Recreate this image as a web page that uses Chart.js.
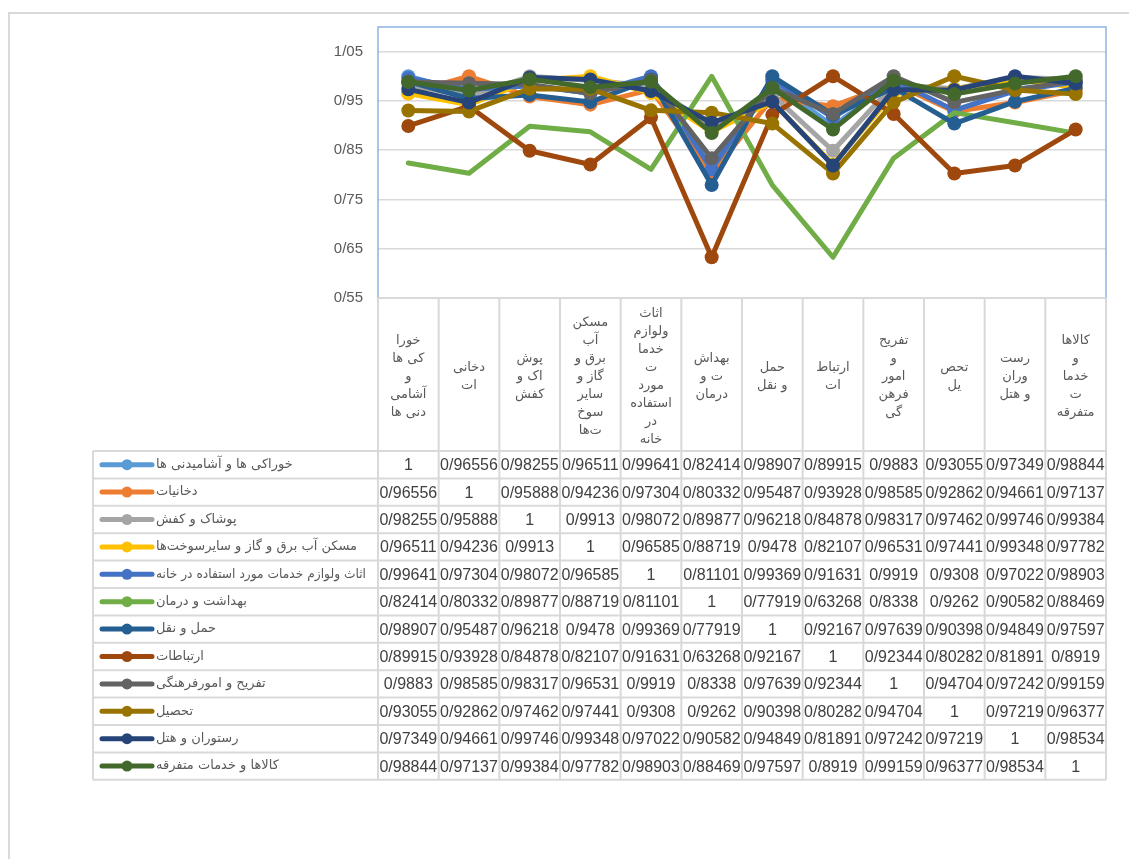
<!DOCTYPE html>
<html>
<head>
<meta charset="utf-8">
<script src="https://cdn.jsdelivr.net/npm/chart.js@4.4.1/dist/chart.umd.min.js"></script>
<style>
    body { margin: 0; background: #fff; }
    canvas { display: block; }
</style>
</head>
<body>
<canvas id="lineChart" width="1129" height="859"></canvas>
<script>
// categories (column headers, wrapped the way the sheet wraps them)
const categories = [
    ['خورا', 'کی ها', 'و', 'آشامی', 'دنی ها'],
    ['دخانی', 'ات'],
    ['پوش', 'اک و', 'کفش'],
    ['مسکن', 'آب', 'برق و', 'گاز و', 'سایر', 'سوخ', 'ت\u200cها'],
    ['اثاث', 'ولوازم', 'خدما', 'ت', 'مورد', 'استفاده', 'در', 'خانه'],
    ['بهداش', 'ت و', 'درمان'],
    ['حمل', 'و نقل'],
    ['ارتباط', 'ات'],
    ['تفریح', 'و', 'امور', 'فرهن', 'گی'],
    ['تحص', 'یل'],
    ['رست', 'وران', 'و هتل'],
    ['کالاها', 'و', 'خدما', 'ت', 'متفرقه']
];

const seriesNames = [
    'خوراکی ها و آشامیدنی ها',
    'دخانیات',
    'پوشاک و کفش',
    'مسکن آب برق و گاز و سایرسوخت\u200cها',
    'اثاث ولوازم خدمات مورد استفاده در خانه',
    'بهداشت و درمان',
    'حمل و نقل',
    'ارتباطات',
    'تفریح و امورفرهنگی',
    'تحصیل',
    'رستوران و هتل',
    'کالاها و خدمات متفرقه'
];

const food = [1, 0.96556, 0.98255, 0.96511, 0.99641, 0.82414, 0.98907, 0.89915, 0.9883, 0.93055, 0.97349, 0.98844];
const tobacco = [0.96556, 1, 0.95888, 0.94236, 0.97304, 0.80332, 0.95487, 0.93928, 0.98585, 0.92862, 0.94661, 0.97137];
const clothing = [0.98255, 0.95888, 1, 0.9913, 0.98072, 0.89877, 0.96218, 0.84878, 0.98317, 0.97462, 0.99746, 0.99384];
const housing = [0.96511, 0.94236, 0.9913, 1, 0.96585, 0.88719, 0.9478, 0.82107, 0.96531, 0.97441, 0.99348, 0.97782];
const furnishing = [0.99641, 0.97304, 0.98072, 0.96585, 1, 0.81101, 0.99369, 0.91631, 0.9919, 0.9308, 0.97022, 0.98903];
const health = [0.82414, 0.80332, 0.89877, 0.88719, 0.81101, 1, 0.77919, 0.63268, 0.8338, 0.9262, 0.90582, 0.88469];
const transport = [0.98907, 0.95487, 0.96218, 0.9478, 0.99369, 0.77919, 1, 0.92167, 0.97639, 0.90398, 0.94849, 0.97597];
const communication = [0.89915, 0.93928, 0.84878, 0.82107, 0.91631, 0.63268, 0.92167, 1, 0.92344, 0.80282, 0.81891, 0.8919];
const recreation = [0.9883, 0.98585, 0.98317, 0.96531, 0.9919, 0.8338, 0.97639, 0.92344, 1, 0.94704, 0.97242, 0.99159];
const education = [0.93055, 0.92862, 0.97462, 0.97441, 0.9308, 0.9262, 0.90398, 0.80282, 0.94704, 1, 0.97219, 0.96377];
const restaurants = [0.97349, 0.94661, 0.99746, 0.99348, 0.97022, 0.90582, 0.94849, 0.81891, 0.97242, 0.97219, 1, 0.98534];
const misc = [0.98844, 0.97137, 0.99384, 0.97782, 0.98903, 0.88469, 0.97597, 0.8919, 0.99159, 0.96377, 0.98534, 1];

const yTicks = [0.55, 0.65, 0.75, 0.85, 0.95, 1.05];

const seriesValues = [food, tobacco, clothing, housing, furnishing, health,
    transport, communication, recreation, education, restaurants, misc];
const colors = ['#5B9BD5', '#ED7D31', '#A5A5A5', '#FFC000', '#4472C4', '#70AD47',
    '#255E91', '#9E480E', '#636363', '#997300', '#264478', '#43682B'];

const GRID = '#D9D9D9';
const TEXT = '#404040';
const TABLE_LEFT = 93;
const HEADER_BOTTOM = 451;
const ROW_H = 27.4;

/**
 * Format a number the way the sheet does: slash as decimal mark.
 */
function fmt(v) {
    return String(v).replace('.', '/');
}

/**
 * Draw the data table (header, legend keys, values) under the plot,
 * lined up with the category scale.
 */
const dataTable = {
    id: 'dataTable',
    afterDraw(chart) {
        const ctx = chart.ctx;
        const area = chart.chartArea;
        const x = chart.scales.x;
        const colW = (area.right - area.left) / categories.length;
        const bottom = HEADER_BOTTOM + ROW_H * seriesNames.length;
        ctx.save();

        // outer frame
        ctx.strokeStyle = GRID;
        ctx.lineWidth = 2;
        ctx.strokeRect(9, 13, 1140, 870);

        // plot area frame (left, top, right)
        ctx.strokeStyle = '#8DB4E2';
        ctx.lineWidth = 1.5;
        ctx.beginPath();
        ctx.moveTo(area.left, area.bottom);
        ctx.lineTo(area.left, area.top);
        ctx.lineTo(area.right, area.top);
        ctx.lineTo(area.right, area.bottom);
        ctx.stroke();

        // table lines
        ctx.strokeStyle = GRID;
        ctx.lineWidth = 2;
        ctx.beginPath();
        ctx.moveTo(area.left, area.bottom);
        ctx.lineTo(area.right, area.bottom);
        for (let r = 0; r <= seriesNames.length; r++) {
            const y = HEADER_BOTTOM + r * ROW_H;
            ctx.moveTo(TABLE_LEFT, y);
            ctx.lineTo(area.right, y);
        }
        for (let i = 0; i <= categories.length; i++) {
            const cx = area.left + i * colW;
            ctx.moveTo(cx, area.bottom);
            ctx.lineTo(cx, bottom);
        }
        ctx.moveTo(TABLE_LEFT, HEADER_BOTTOM);
        ctx.lineTo(TABLE_LEFT, bottom);
        ctx.stroke();

        // header text
        ctx.fillStyle = '#595959';
        ctx.font = '13px "DejaVu Sans", sans-serif';
        ctx.textAlign = 'center';
        ctx.textBaseline = 'middle';
        ctx.direction = 'rtl';
        const lineH = 18;
        const headMid = (area.bottom + HEADER_BOTTOM) / 2 + 2;
        categories.forEach((lines, i) => {
            const cx = x.getPixelForValue(i);
            const y0 = headMid - (lines.length - 1) * lineH / 2;
            lines.forEach((t, k) => ctx.fillText(t, cx, y0 + k * lineH));
        });

        // rows
        seriesNames.forEach((name, r) => {
            const cy = HEADER_BOTTOM + (r + 0.5) * ROW_H;
            // legend key
            ctx.strokeStyle = colors[r];
            ctx.lineWidth = 5;
            ctx.lineCap = 'round';
            ctx.beginPath();
            ctx.moveTo(102, cy);
            ctx.lineTo(152, cy);
            ctx.stroke();
            ctx.fillStyle = colors[r];
            ctx.beginPath();
            ctx.arc(127, cy, 5.5, 0, Math.PI * 2);
            ctx.fill();
            // name
            ctx.fillStyle = '#595959';
            ctx.font = '13px "DejaVu Sans", sans-serif';
            ctx.direction = 'rtl';
            ctx.textAlign = 'left';
            ctx.fillText(name, 156, cy, 210);
            // values
            ctx.direction = 'ltr';
            ctx.textAlign = 'center';
            ctx.fillStyle = TEXT;
            ctx.font = '16px "Liberation Sans", sans-serif';
            seriesValues[r].forEach((v, i) => {
                ctx.fillText(fmt(v), x.getPixelForValue(i), cy + 1);
            });
        });
        ctx.restore();
    }
};

function showLineChart() {
    const ctx = document.getElementById('lineChart');
    return new Chart(ctx, {
        type: 'line',
        data: {
            labels: categories,
            datasets: seriesNames.map((name, i) => ({
                label: name,
                data: seriesValues[i],
                borderColor: colors[i],
                backgroundColor: colors[i],
                borderWidth: 5,
                borderJoinStyle: 'round',
                borderCapStyle: 'round',
                pointRadius: name === 'بهداشت و درمان' ? 0 : 7,
                pointBorderWidth: 0,
                pointBackgroundColor: colors[i],
                fill: false,
                tension: 0,
                order: seriesNames.length - i
            }))
        },
        options: {
            responsive: false,
            animation: false,
            layout: { padding: { left: 0, top: 27, right: 23, bottom: 561 } },
            plugins: {
                legend: { display: false },
                tooltip: { enabled: false }
            },
            scales: {
                x: {
                    type: 'category',
                    offset: true,
                    display: false
                },
                y: {
                    min: 0.55,
                    max: 1.1,
                    afterBuildTicks: (s) => { s.ticks = yTicks.map(v => ({ value: v })); },
                    afterFit: (s) => { s.width = 378; },
                    border: { display: false },
                    grid: { color: GRID, lineWidth: 1.5, drawTicks: false },
                    ticks: {
                        padding: 15,
                        color: '#595959',
                        font: { family: '"Liberation Sans", sans-serif', size: 15 },
                        callback: (v) => v.toFixed(2).replace('.', '/')
                    }
                }
            }
        },
        plugins: [dataTable]
    });
}

showLineChart();
</script>
</body>
</html>
